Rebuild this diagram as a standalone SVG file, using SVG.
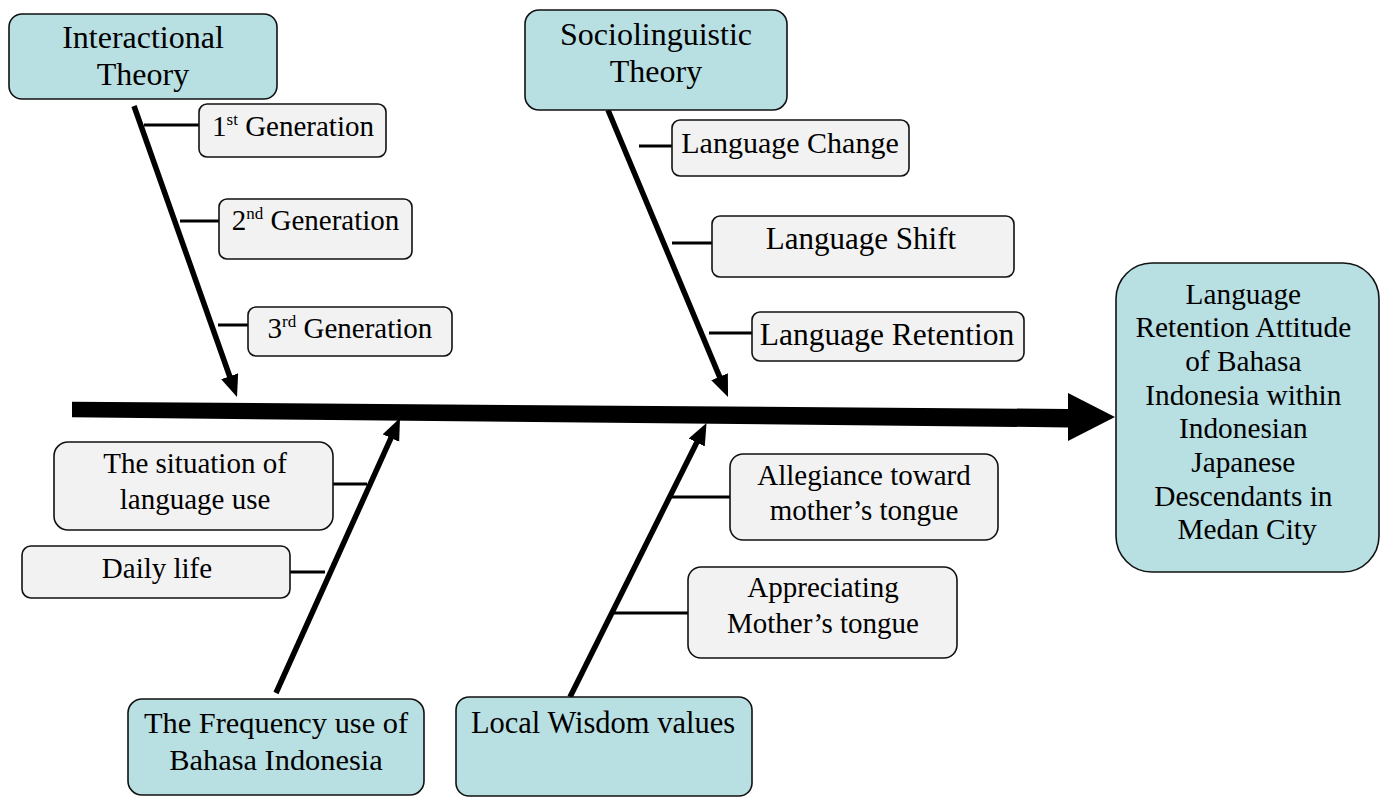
<svg xmlns="http://www.w3.org/2000/svg" width="1382" height="797" viewBox="0 0 1382 797">
<style>
text{font-family:"Liberation Serif","Times New Roman",serif;fill:#000;text-anchor:middle}
.main{fill:#b8dfe2;stroke:#111;stroke-width:1.6}
.sub{fill:#f2f2f2;stroke:#111;stroke-width:1.6}
.bone{stroke:#000;stroke-width:5.5;fill:none;marker-end:url(#ah)}
.tick{stroke:#000;stroke-width:3;fill:none}
</style>
<defs>
<marker id="ah" markerUnits="userSpaceOnUse" markerWidth="24" markerHeight="20" refX="4" refY="9" orient="auto" viewBox="0 0 24 20">
<path d="M0,0 L22,9 L0,18 z" fill="#000"/>
</marker>
</defs>
<rect width="1382" height="797" fill="#fff"/>
<g id="connectors">
<polygon points="72,401.7 1068,409 1068,393 1115,417 1068,441 1068,427.4 72,417.3" fill="#000"/>
<line class="bone" x1="134" y1="106" x2="231" y2="380"/>
<line class="bone" x1="608" y1="110" x2="721.1" y2="380.4"/>
<line class="bone" x1="276" y1="693" x2="392.6" y2="434.4"/>
<line class="bone" x1="570" y1="697" x2="698.5" y2="439"/>
<line class="tick" x1="144" y1="125" x2="199" y2="125"/>
<line class="tick" x1="180" y1="221" x2="219" y2="221"/>
<line class="tick" x1="218" y1="325" x2="248" y2="325"/>
<line class="tick" x1="639" y1="146" x2="672" y2="146"/>
<line class="tick" x1="672" y1="243" x2="712" y2="243"/>
<line class="tick" x1="709" y1="333" x2="752" y2="333"/>
<line class="tick" x1="333" y1="484" x2="367" y2="484"/>
<line class="tick" x1="290" y1="572" x2="325" y2="572"/>
<line class="tick" x1="670" y1="497" x2="730" y2="497"/>
<line class="tick" x1="613" y1="613" x2="688" y2="613"/>
</g>
<g id="interactional">
<rect class="main" x="9" y="14" width="268" height="85" rx="13"/>
<text x="143" y="48" font-size="32">Interactional</text>
<text x="143" y="85" font-size="32">Theory</text>
</g>
<g id="gen1">
<rect class="sub" x="199" y="104" width="187" height="53" rx="8"/>
<text x="293" y="136" font-size="29">1<tspan font-size="17" dy="-11">st</tspan><tspan dy="11"> Generation</tspan></text>
</g>
<g id="gen2">
<rect class="sub" x="219" y="199" width="193" height="60" rx="8"/>
<text x="315.5" y="230" font-size="29">2<tspan font-size="17" dy="-11">nd</tspan><tspan dy="11"> Generation</tspan></text>
</g>
<g id="gen3">
<rect class="sub" x="248" y="307" width="204" height="49" rx="8"/>
<text x="350" y="338" font-size="29">3<tspan font-size="17" dy="-11">rd</tspan><tspan dy="11"> Generation</tspan></text>
</g>
<g id="sociolinguistic">
<rect class="main" x="525" y="10" width="262" height="100" rx="14"/>
<text x="656" y="45" font-size="32">Sociolinguistic</text>
<text x="656" y="82" font-size="32">Theory</text>
</g>
<g id="change">
<rect class="sub" x="672" y="120" width="237" height="56" rx="8"/>
<text x="790" y="153" font-size="30">Language Change</text>
</g>
<g id="shift">
<rect class="sub" x="712" y="216" width="302" height="61" rx="8"/>
<text x="861" y="249" font-size="31">Language Shift</text>
</g>
<g id="retention">
<rect class="sub" x="752" y="312" width="272" height="49" rx="8"/>
<text x="887" y="345" font-size="31.5">Language Retention</text>
</g>
<g id="outcome">
<rect class="main" x="1116" y="263" width="263" height="309" rx="36"/>
<text font-size="29.3">
<tspan x="1247" y="303.5">Language</tspan>
<tspan x="1247" y="337.2">Retention Attitude</tspan>
<tspan x="1247" y="370.9">of Bahasa</tspan>
<tspan x="1247" y="404.6">Indonesia within</tspan>
<tspan x="1247" y="438.3">Indonesian</tspan>
<tspan x="1247" y="472">Japanese</tspan>
<tspan x="1247" y="505.7">Descendants in</tspan>
<tspan x="1247" y="539.4">Medan City</tspan>
</text>
</g>
<g id="situation">
<rect class="sub" x="54" y="442" width="279" height="88" rx="14"/>
<text x="195" y="473" font-size="29">The situation of</text>
<text x="195" y="509" font-size="29">language use</text>
</g>
<g id="daily">
<rect class="sub" x="22" y="546" width="268" height="52" rx="9"/>
<text x="157" y="578" font-size="29">Daily life</text>
</g>
<g id="frequency">
<rect class="main" x="128" y="699" width="296" height="96" rx="14"/>
<text x="276" y="733" font-size="30.4">The Frequency use of</text>
<text x="276" y="770" font-size="30.4">Bahasa Indonesia</text>
</g>
<g id="wisdom">
<rect class="main" x="456" y="697" width="296" height="99" rx="13"/>
<text x="603" y="733" font-size="30.5">Local Wisdom values</text>
</g>
<g id="allegiance">
<rect class="sub" x="730" y="454" width="268" height="86" rx="13"/>
<text x="864" y="485" font-size="29">Allegiance toward</text>
<text x="864" y="520" font-size="29">mother’s tongue</text>
</g>
<g id="appreciating">
<rect class="sub" x="688" y="567" width="269" height="91" rx="13"/>
<text x="823" y="597" font-size="29">Appreciating</text>
<text x="823" y="633" font-size="29">Mother’s tongue</text>
</g>
</svg>
